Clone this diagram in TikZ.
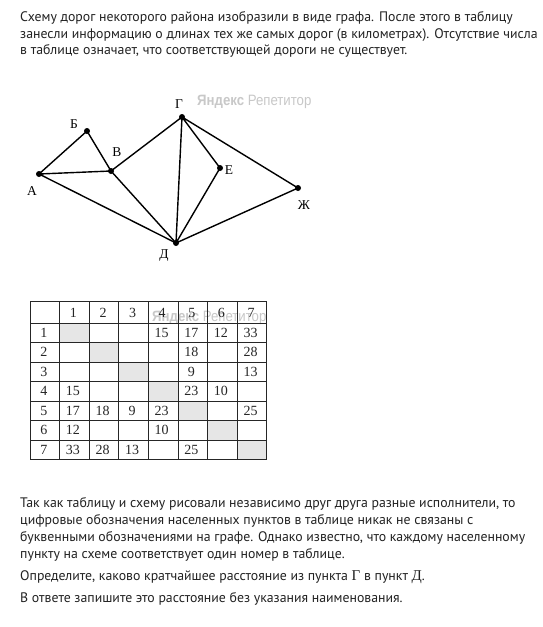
\documentclass[tikz,border=0pt]{standalone}
\usepackage{fontspec}
\setmainfont{PT Sans}
\newfontfamily\tnr{Liberation Serif}
\newfontfamily\wmfont{Liberation Sans}
\definecolor{txtcol}{HTML}{222222}
\definecolor{cellgray}{HTML}{E6E6E6}
\definecolor{wmcol}{HTML}{C8C8C8}
\begin{document}
\begin{tikzpicture}[x=1pt,y=-1pt,
  txt/.style={anchor=mid west,inner sep=0pt,text=txtcol,font=\fontsize{13.8}{16}\selectfont},
  vtx/.style={circle,fill=black,inner sep=0pt,minimum size=6pt},
  edge/.style={line width=1.4pt,black},
  lbl/.style={inner sep=0pt,font=\tnr\fontsize{13.5}{13.5}\selectfont},
  cell/.style={inner sep=0pt,font=\tnr\fontsize{14}{14}\selectfont,text=black!85},
  gridline/.style={line width=0.8pt,black!85},
  wmark/.style={inner sep=0pt,text=wmcol,xscale=0.88,font=\wmfont\fontsize{15}{15}\selectfont}]
\useasboundingbox (0,0) rectangle (543,627);
\fill[white] (0,0) rectangle (543,627);

% top text
\node[txt] (t1) at (20,19) {Схему дорог некоторого района изобразили в виде графа. После этого в таблицу};
\node[txt] (t2) at (20,35.5) {занесли информацию о длинах тех же самых дорог (в километрах). Отсутствие числа};
\node[txt] (t3) at (20,52) {в таблице означает, что соответствующей дороги не существует.};

% watermark on graph
\node[wmark,anchor=mid west] (wm1) at (197,103) {\textbf{Яндекс} Репетитор};

% graph
\node[vtx] (A) at (39,174) {};
\node[vtx] (B) at (87,131) {};
\node[vtx] (V) at (111,171) {};
\node[vtx] (G) at (182,117) {};
\node[vtx] (E) at (220,168) {};
\node[vtx] (Zh) at (298,188) {};
\node[vtx] (D) at (176,243) {};
\draw[edge] (A.center) -- (B.center) -- (V.center) -- (A.center) -- (D.center);
\draw[edge] (V.center) -- (G.center) -- (D.center) -- (V.center);
\draw[edge] (G.center) -- (E.center) -- (D.center) -- (Zh.center) -- (G.center);
\node[lbl] (lA) at (32,191) {А};
\node[lbl] (lB) at (74,124) {Б};
\node[lbl] (lV) at (117,152) {В};
\node[lbl] (lG) at (179,104) {Г};
\node[lbl] (lE) at (229,170) {Е};
\node[lbl] (lZh) at (304,205) {Ж};
\node[lbl] (lD) at (164,256) {Д};

% table
\foreach \i in {1,...,7}
  \fill[cellgray] ({30+29.6*\i},{323+19.5*(\i-1)}) rectangle ({30+29.6*(\i+1)},{323+19.5*\i});
\node[wmark,anchor=mid west] (wm2) at (152,319) {\textbf{Яндекс} Репетитор};
\draw[gridline] (30,301.5) rectangle (266.8,459.5);
\foreach \j in {1,...,7}
  \draw[gridline] ({30+29.6*\j},301.5) -- ({30+29.6*\j},459.5);
\draw[gridline] (30,323) -- (266.8,323);
\foreach \i in {1,...,6}
  \draw[gridline] (30,{323+19.5*\i}) -- (266.8,{323+19.5*\i});
\foreach \j in {1,...,7}
  \node[cell] (h\j) at ({30+29.6*(\j+0.5)-1},312.5) {\j};
\foreach \i in {1,...,7}
  \node[cell] (r\i) at ({30+29.6*0.5-1},{323+19.5*(\i-0.5)}) {\i};
\foreach \i/\j/\v in {1/4/15,1/5/17,1/6/12,1/7/33,2/5/18,2/7/28,3/5/9,3/7/13,
  4/1/15,4/5/23,4/6/10,5/1/17,5/2/18,5/3/9,5/4/23,5/7/25,6/1/12,6/4/10,
  7/1/33,7/2/28,7/3/13,7/5/25}
  \node[cell] (c\i-\j) at ({30+29.6*(\j+0.5)-1.5},{323+19.5*(\i-0.5)}) {\v};

% bottom text
\node[txt] (b1) at (20,505) {Так как таблицу и схему рисовали независимо друг друга разные исполнители, то};
\node[txt] (b2) at (20,522) {цифровые обозначения населенных пунктов в таблице никак не связаны с};
\node[txt] (b3) at (20,539) {буквенными обозначениями на графе. Однако известно, что каждому населенному};
\node[txt] (b4) at (20,556) {пункту на схеме соответствует один номер в таблице.};
\node[txt] (b5) at (20,578) {Определите, каково кратчайшее расстояние из пункта {\tnr\fontsize{15}{15}\selectfont Г} в пункт {\tnr\fontsize{15}{15}\selectfont Д}.};
\node[txt] (b6) at (20,600) {В ответе запишите это расстояние без указания наименования.};
\end{tikzpicture}
\end{document}
